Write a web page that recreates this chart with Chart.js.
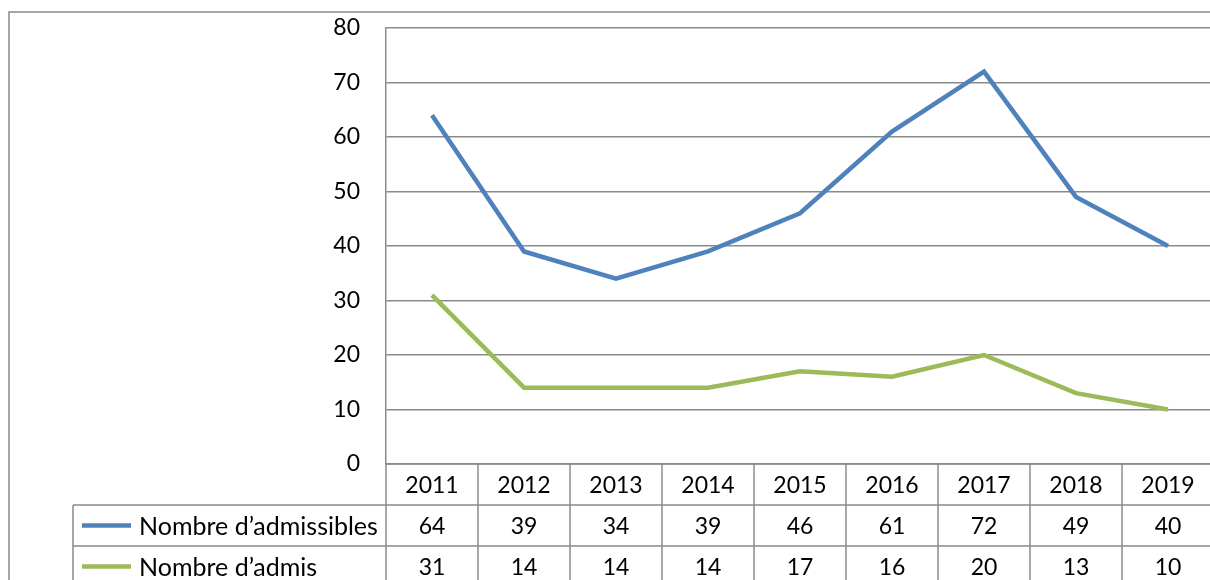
<!DOCTYPE html>
<html>
<head>
<meta charset="utf-8">
<script src="https://cdn.jsdelivr.net/npm/chart.js@4.4.0/dist/chart.umd.min.js"></script>
<style>
    html, body { margin: 0; padding: 0; background: #fff; overflow: hidden; }
    #wrap { width: 1210px; height: 580px; overflow: hidden; position: relative; }
    canvas { display: block; }
</style>
</head>
<body>
<div id="wrap">
    <canvas id="chart" width="1240" height="620"></canvas>
</div>
<script>
// data
const years = ['2011', '2012', '2013', '2014', '2015', '2016', '2017', '2018', '2019'];
const admissibles = [64, 39, 34, 39, 46, 61, 72, 49, 40];
const admis = [31, 14, 14, 14, 17, 16, 20, 13, 10];
const seriesNames = ['Nombre d\u2019admissibles', 'Nombre d\u2019admis'];
const yTicks = [0, 10, 20, 30, 40, 50, 60, 70, 80];

const FONT = 'Lato, "Open Sans", sans-serif';
const GRID = '#8a8a8a';
const BLUE = '#4f81bd';
const GREEN = '#9bbb59';

// draws the frame + the data table under the plot
const dataTablePlugin = {
    id: 'dataTable',
    afterDraw(chart) {
        const ctx = chart.ctx;
        const area = chart.chartArea;
        const x = chart.scales.x;
        const rowH = 41;
        const legendLeft = 73;
        const bottom = chart.height;
        const colW = (area.right - area.left) / years.length;

        ctx.save();
        ctx.strokeStyle = GRID;
        ctx.lineWidth = 1.5;

        // outer frame
        ctx.strokeRect(9, 12, chart.width, chart.height);

        // horizontal lines of the table
        ctx.beginPath();
        ctx.moveTo(area.left, area.bottom);
        ctx.lineTo(chart.width, area.bottom);
        for (let r = 1; r <= 3; r++) {
            const y = area.bottom + r * rowH;
            ctx.moveTo(legendLeft, y);
            ctx.lineTo(chart.width, y);
        }
        // vertical lines
        for (let i = 0; i <= years.length; i++) {
            const vx = area.left + i * colW;
            ctx.moveTo(vx, area.bottom);
            ctx.lineTo(vx, bottom);
        }
        ctx.moveTo(legendLeft, area.bottom + rowH);
        ctx.lineTo(legendLeft, bottom);
        ctx.stroke();

        // texts
        ctx.fillStyle = '#000';
        ctx.font = '23px ' + FONT;
        ctx.textAlign = 'center';
        ctx.textBaseline = 'middle';
        years.forEach((yr, i) => {
            const cx = x.getPixelForValue(i);
            ctx.fillText(yr, cx, area.bottom + rowH / 2 + 1);
            ctx.fillText(String(admissibles[i]), cx, area.bottom + rowH * 1.5 + 1);
            ctx.fillText(String(admis[i]), cx, area.bottom + rowH * 2.5 + 1);
        });

        // legend keys
        const colors = [BLUE, GREEN];
        ctx.textAlign = 'left';
        ctx.font = '25px ' + FONT;
        seriesNames.forEach((name, r) => {
            const cy = area.bottom + rowH * (r + 1.5);
            ctx.strokeStyle = colors[r];
            ctx.lineWidth = 4.5;
            ctx.beginPath();
            ctx.moveTo(82, cy);
            ctx.lineTo(131, cy);
            ctx.stroke();
            ctx.fillText(name, 139, cy + 1);
        });
        ctx.restore();
    }
};

new Chart(document.getElementById('chart'), {
    type: 'line',
    data: {
        labels: years,
        datasets: [
            {
                label: seriesNames[0],
                data: admissibles,
                borderColor: BLUE,
                borderWidth: 4.5,
                pointRadius: 0,
                tension: 0
            },
            {
                label: seriesNames[1],
                data: admis,
                borderColor: GREEN,
                borderWidth: 4.5,
                pointRadius: 0,
                tension: 0
            }
        ]
    },
    options: {
        responsive: false,
        animation: false,
        layout: {
            padding: { left: 0, top: 28, right: 26, bottom: 156 }
        },
        plugins: {
            legend: { display: false },
            tooltip: { enabled: false }
        },
        scales: {
            x: {
                display: false,
                offset: true
            },
            y: {
                min: 0,
                max: 80,
                afterBuildTicks: (scale) => {
                    scale.ticks = yTicks.map(v => ({ value: v }));
                },
                afterFit: (scale) => {
                    scale.width = 386;
                    scale.paddingTop = 0;
                    scale.paddingBottom = 0;
                },
                border: { display: true, color: GRID, width: 1.5 },
                grid: {
                    color: GRID,
                    lineWidth: 1.5,
                    drawTicks: false
                },
                ticks: {
                    padding: 26,
                    color: '#000',
                    font: { family: FONT, size: 23 }
                }
            }
        }
    },
    plugins: [dataTablePlugin]
});
</script>
</body>
</html>
